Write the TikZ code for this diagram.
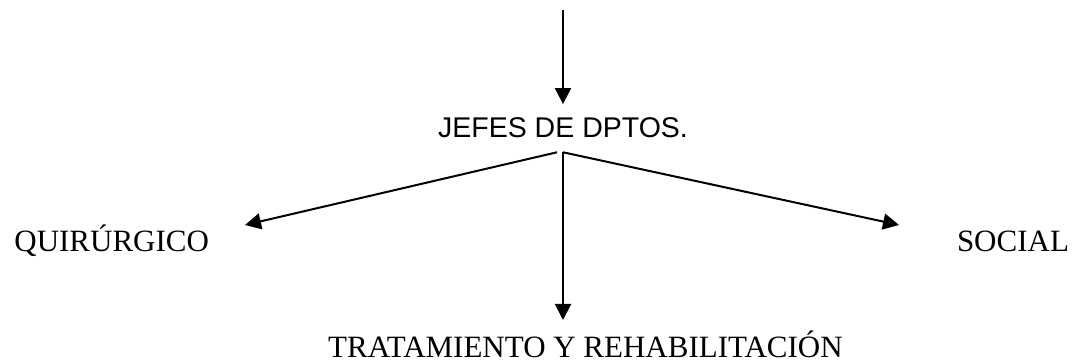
\documentclass[tikz,border=0pt]{standalone}
\usepackage{fontspec}
\setmainfont{Liberation Serif}
\setsansfont{Liberation Sans}
\usepackage{tikz}
\usetikzlibrary{arrows.meta}

\begin{document}
\begin{tikzpicture}
		[x=1pt, y=1pt, line width=2pt,
		 main/.style = {inner sep=0pt, font=\fontsize{31}{36}\selectfont},
		 head/.style = {inner xsep=0pt, inner ysep=13pt, font=\sffamily\fontsize{28.5}{34}\selectfont},
		 arr/.style = {-{Triangle[length=16pt,width=16pt]}}]
	\useasboundingbox (0,0) rectangle (1073,363);
	\coordinate (top) at (563,353);
	\node[head, anchor=base] (jefes) at (563,225) {JEFES DE DPTOS.};
	\node[main, anchor=base east] (quir) at (210,111) {QUIRÚRGICO};
	\node[main, anchor=base west] (social) at (956,111) {SOCIAL};
	\node[main, anchor=base] (trat) at (585.5,5) {TRATAMIENTO Y REHABILITACIÓN};
	\draw[arr] (top) -- (jefes.north);
	\draw[arr] ([xshift=-6pt]jefes.south) -- ([shift={(35pt,27pt)}]quir.base east);
	\draw[arr] (jefes.south) -- ([shift={(-57pt,27pt)}]social.base west);
	\draw[arr] (jefes.south) -- ([yshift=38pt]trat.base -| jefes.south);
\end{tikzpicture}
\end{document}
